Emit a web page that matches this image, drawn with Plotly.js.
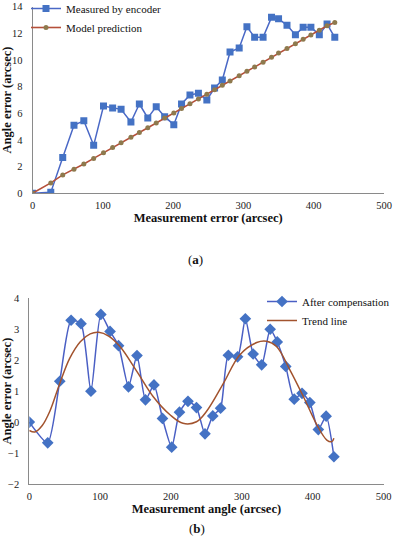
<!DOCTYPE html>
<html><head><meta charset="utf-8">
<script src="https://cdn.plot.ly/plotly-3.0.1.min.js"></script>
<style>html,body{margin:0;padding:0;background:#fff;}#chart{width:394px;height:550px;}</style>
</head><body><div id="chart"></div>
<script>
// Shared sample positions (arcsec)
const sampleX = [0,26,43,59,73,87,101,114,126,140,152,164,176,188,201,212,224,236,248,259,270,281,294,305,316,328,340,350,362,374,385,396,408,419,430];
// (a) Measured by encoder
const measured = [0,0.07,2.68,5.1,5.45,3.6,6.55,6.4,6.3,5.35,6.7,5.65,6.5,5.75,5.15,6.7,7.38,7.5,7.0,7.9,8.5,10.6,10.9,12.5,11.7,11.7,13.2,13.1,12.6,11.9,12.45,12.45,11.9,12.7,11.7];
// (a) Model prediction
const model = [0,0.78,1.38,1.8,2.2,2.62,3.05,3.43,3.8,4.2,4.56,4.92,5.28,5.65,6.02,6.36,6.72,7.08,7.44,7.77,8.1,8.43,8.82,9.15,9.48,9.84,10.2,10.53,10.86,11.22,11.55,11.88,12.24,12.57,12.82];
// (b) After compensation
const compensated = [0,-0.67,1.32,3.29,3.18,1.0,3.48,2.93,2.47,1.14,2.15,0.72,1.2,0.12,-0.81,0.32,0.67,0.47,-0.38,0.2,0.45,2.16,2.11,3.34,2.2,1.85,3.0,2.59,1.8,0.74,0.93,0.63,-0.24,0.19,-1.12];
// (b) Trend line
const trendX = [0,8,18,29,43,57,72,86,98,112,128,152,175,199,217,236,250,274,297,321,335,349,368,387,406,420,427,430];
const trendY = [-0.27,-0.32,-0.12,0.35,1.25,2.06,2.6,2.85,2.9,2.78,2.44,1.63,0.82,0.23,-0.04,0.01,0.34,1.25,2.17,2.57,2.61,2.44,1.68,0.82,-0.09,-0.58,-0.63,-0.52];
// tick labels
const xTicksA = [0,100,200,300,400,500];
const yTicksA = [0,2,4,6,8,10,12,14];
const xTicksB = [0,100,200,300,400,500];
const yTicksB = [-2,-1,0,1,2,3,4];

const serif = "Liberation Serif, Times New Roman, serif";
const W = 394, H = 550;

const traces = [
  {x: sampleX, y: measured, name: "Measured by encoder", mode: "lines+markers", xaxis: "x", yaxis: "y", legend: "legend",
   line: {color: "#4A68C6", width: 1.5}, marker: {symbol: "square", size: 7, color: "#4472C4"}},
  {x: sampleX, y: model, name: "Model prediction", mode: "lines+markers", xaxis: "x", yaxis: "y", legend: "legend",
   line: {color: "#B5503A", width: 1.6}, marker: {symbol: "circle", size: 5, color: "#8E7A4E"}},
  {x: sampleX, y: compensated, name: "After compensation", mode: "lines+markers", xaxis: "x2", yaxis: "y2", legend: "legend2",
   line: {color: "#4A5FC4", width: 1.5, shape: "spline", smoothing: 0.6}, marker: {symbol: "diamond", size: 9, color: "#4472C4"}},
  {x: trendX, y: trendY, name: "Trend line", mode: "lines", xaxis: "x2", yaxis: "y2", legend: "legend2",
   line: {color: "#A2532E", width: 1.5, shape: "spline", smoothing: 1}}
];

const axisCommon = {showgrid: false, zeroline: false, showline: true, linecolor: "#8a8a8a", linewidth: 1,
  ticks: "", tickfont: {family: serif, size: 10.5, color: "#222"}, fixedrange: true, automargin: false};

const layout = {
  width: W, height: H, margin: {l: 0, r: 0, t: 0, b: 0, autoexpand: false},
  paper_bgcolor: "#fff", plot_bgcolor: "#fff",
  font: {family: serif, color: "#111"},
  xaxis: Object.assign({}, axisCommon, {domain: [32.5/W, 384/W], range: [0, 500], tickvals: xTicksA, anchor: "y",
    ticklabelstandoff: 2,
    title: {text: "<b>Measurement error (arcsec)</b>", font: {family: serif, size: 12.5, color: "#111"}, standoff: 0}}),
  yaxis: Object.assign({}, axisCommon, {domain: [1-193.3/H, 1-6.7/H], range: [0, 14], tickvals: yTicksA, anchor: "x",
    ticklabelstandoff: 7,
    title: {text: "<b>Angle error (arcsec)</b>", font: {family: serif, size: 12.5, color: "#111"}, standoff: 4}}),
  xaxis2: Object.assign({}, axisCommon, {domain: [29.3/W, 383.5/W], range: [0, 500], tickvals: xTicksB, anchor: "y2",
    ticklabelstandoff: 2,
    title: {text: "<b>Measurement angle (arcsec)</b>", font: {family: serif, size: 12.5, color: "#111"}, standoff: 0}}),
  yaxis2: Object.assign({}, axisCommon, {domain: [1-484/H, 1-298.3/H], range: [-2, 4], tickvals: yTicksB, anchor: "x2",
    ticklabelstandoff: 7,
    title: {text: "<b>Angle error (arcsec)</b>", font: {family: serif, size: 12.5, color: "#111"}, standoff: 4}}),
  legend: {x: 26/W, y: 1+6/H, xanchor: "left", yanchor: "top", bgcolor: "rgba(0,0,0,0)",
    font: {family: serif, size: 11, color: "#111"}, tracegroupgap: 0, itemwidth: 30},
  legend2: {x: 262/W, y: 1-287/H, xanchor: "left", yanchor: "top", bgcolor: "rgba(0,0,0,0)",
    font: {family: serif, size: 11, color: "#111"}, tracegroupgap: 0, itemwidth: 30},
  showlegend: true,
  annotations: [
    {text: "(<b>a</b>)", x: 195/W, y: 1-260/H, xref: "paper", yref: "paper", showarrow: false, font: {family: serif, size: 13, color: "#111"}},
    {text: "(<b>b</b>)", x: 197/W, y: 1-538/H, xref: "paper", yref: "paper", showarrow: false, font: {family: serif, size: 13, color: "#111"}}
  ]
};

Plotly.newPlot("chart", traces, layout, {displayModeBar: false, staticPlot: true});
</script>
</body></html>
